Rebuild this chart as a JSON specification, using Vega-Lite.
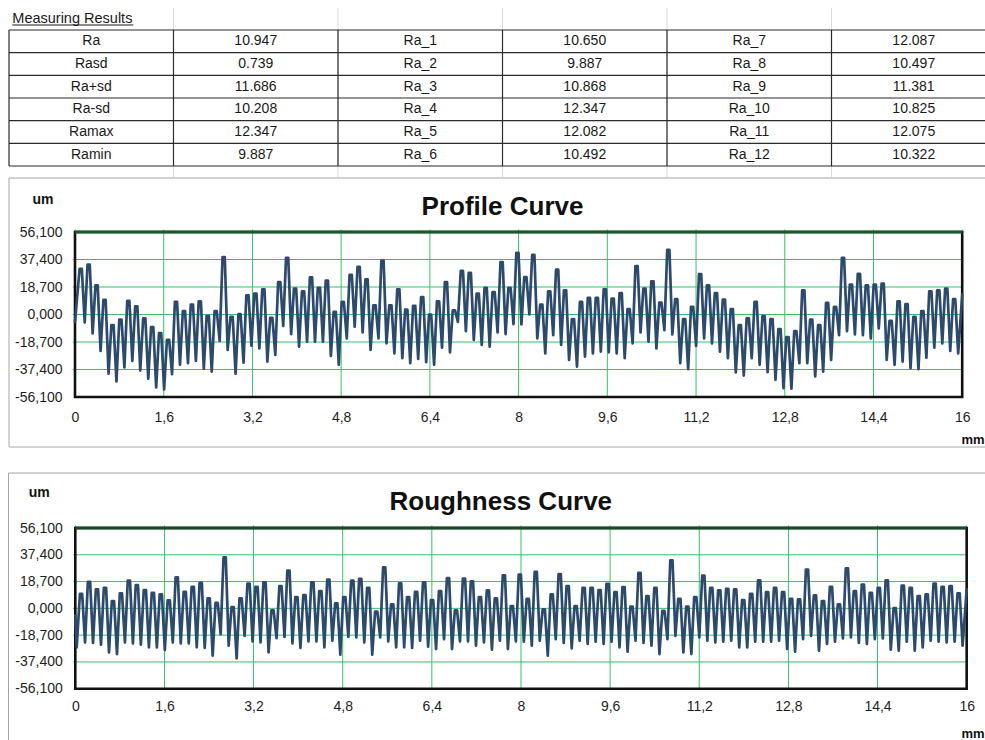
{
"$schema": "https://vega.github.io/schema/vega-lite/v6.json",
"padding": 0,
"spacing": 0,
"bounds": "flush",
"background": "white",
"config": {
  "view": {"stroke": null},
  "font": "Liberation Sans",
  "locale": {"number": {"decimal": ",", "thousands": ".", "grouping": [3], "currency": ["", " €"], "minus": "-"}}
},
"datasets": {
  "cells": [
    {"row":1,"col":1,"label":"Ra"},{"row":1,"col":2,"label":"10.947"},{"row":1,"col":3,"label":"Ra_1"},{"row":1,"col":4,"label":"10.650"},{"row":1,"col":5,"label":"Ra_7"},{"row":1,"col":6,"label":"12.087"},
    {"row":2,"col":1,"label":"Rasd"},{"row":2,"col":2,"label":"0.739"},{"row":2,"col":3,"label":"Ra_2"},{"row":2,"col":4,"label":"9.887"},{"row":2,"col":5,"label":"Ra_8"},{"row":2,"col":6,"label":"10.497"},
    {"row":3,"col":1,"label":"Ra+sd"},{"row":3,"col":2,"label":"11.686"},{"row":3,"col":3,"label":"Ra_3"},{"row":3,"col":4,"label":"10.868"},{"row":3,"col":5,"label":"Ra_9"},{"row":3,"col":6,"label":"11.381"},
    {"row":4,"col":1,"label":"Ra-sd"},{"row":4,"col":2,"label":"10.208"},{"row":4,"col":3,"label":"Ra_4"},{"row":4,"col":4,"label":"12.347"},{"row":4,"col":5,"label":"Ra_10"},{"row":4,"col":6,"label":"10.825"},
    {"row":5,"col":1,"label":"Ramax"},{"row":5,"col":2,"label":"12.347"},{"row":5,"col":3,"label":"Ra_5"},{"row":5,"col":4,"label":"12.082"},{"row":5,"col":5,"label":"Ra_11"},{"row":5,"col":6,"label":"12.075"},
    {"row":6,"col":1,"label":"Ramin"},{"row":6,"col":2,"label":"9.887"},{"row":6,"col":3,"label":"Ra_6"},{"row":6,"col":4,"label":"10.492"},{"row":6,"col":5,"label":"Ra_12"},{"row":6,"col":6,"label":"10.322"}
  ],
  "edges": [{"e":0.5},{"e":1.5},{"e":2.5},{"e":3.5},{"e":4.5},{"e":5.5},{"e":6.5}],
  "gridX": [{"mm":0},{"mm":1.6},{"mm":3.2},{"mm":4.8},{"mm":6.4},{"mm":8},{"mm":9.6},{"mm":11.2},{"mm":12.8},{"mm":14.4},{"mm":16}],
  "gridY": [{"um":-37.4},{"um":-18.7},{"um":0},{"um":18.7},{"um":37.4}],
  "profile": [
    {"x":0,"y":-5},
    {"x":0.083,"y":31.1},{"x":0.123,"y":31.1},{"x":0.175,"y":-5.4},
    {"x":0.226,"y":34.0},{"x":0.266,"y":34.0},{"x":0.318,"y":-12.8},
    {"x":0.369,"y":19.8},{"x":0.409,"y":19.8},{"x":0.461,"y":-24.8},
    {"x":0.513,"y":9.9},{"x":0.553,"y":9.9},{"x":0.605,"y":-40.3},
    {"x":0.656,"y":-7.2},{"x":0.696,"y":-7.2},{"x":0.748,"y":-45.5},
    {"x":0.799,"y":-3.4},{"x":0.839,"y":-3.4},{"x":0.891,"y":-36.0},
    {"x":0.942,"y":9.2},{"x":0.982,"y":9.2},{"x":1.034,"y":-31.5},
    {"x":1.085,"y":5.6},{"x":1.125,"y":5.6},{"x":1.177,"y":-38.1},
    {"x":1.229,"y":-2.7},{"x":1.269,"y":-2.7},{"x":1.321,"y":-43.7},
    {"x":1.372,"y":-8.6},{"x":1.412,"y":-8.6},{"x":1.464,"y":-49.6},
    {"x":1.515,"y":-12.6},{"x":1.555,"y":-12.6},{"x":1.607,"y":-50.9},
    {"x":1.658,"y":-17.3},{"x":1.698,"y":-17.3},{"x":1.750,"y":-40.6},
    {"x":1.801,"y":8.6},{"x":1.841,"y":8.6},{"x":1.893,"y":-34.2},
    {"x":1.945,"y":2.3},{"x":1.985,"y":2.3},{"x":2.037,"y":-33.1},
    {"x":2.088,"y":6.8},{"x":2.128,"y":6.8},{"x":2.180,"y":-31.5},
    {"x":2.231,"y":9.0},{"x":2.271,"y":9.0},{"x":2.323,"y":-36.9},
    {"x":2.374,"y":-0.9},{"x":2.414,"y":-0.9},{"x":2.466,"y":-38.8},
    {"x":2.517,"y":2.3},{"x":2.557,"y":2.3},{"x":2.609,"y":-18.0},
    {"x":2.661,"y":39.0},{"x":2.701,"y":39.0},{"x":2.753,"y":-24.1},
    {"x":2.804,"y":-1.6},{"x":2.844,"y":-1.6},{"x":2.896,"y":-40.3},
    {"x":2.947,"y":0.2},{"x":2.987,"y":0.2},{"x":3.039,"y":-32.7},
    {"x":3.090,"y":13.1},{"x":3.130,"y":13.1},{"x":3.182,"y":-21.2},
    {"x":3.233,"y":14.2},{"x":3.273,"y":14.2},{"x":3.325,"y":-23.0},
    {"x":3.377,"y":17.1},{"x":3.417,"y":17.1},{"x":3.469,"y":-32.0},
    {"x":3.520,"y":-2.3},{"x":3.560,"y":-2.3},{"x":3.612,"y":-27.5},
    {"x":3.663,"y":22.1},{"x":3.703,"y":22.1},{"x":3.755,"y":-7.7},
    {"x":3.806,"y":38.5},{"x":3.846,"y":38.5},{"x":3.898,"y":-13.3},
    {"x":3.949,"y":17.6},{"x":3.989,"y":17.6},{"x":4.041,"y":-21.9},
    {"x":4.093,"y":15.8},{"x":4.133,"y":15.8},{"x":4.185,"y":-18.5},
    {"x":4.236,"y":25.2},{"x":4.276,"y":25.2},{"x":4.328,"y":-18.5},
    {"x":4.379,"y":18.2},{"x":4.419,"y":18.2},{"x":4.471,"y":-18.5},
    {"x":4.522,"y":23.0},{"x":4.562,"y":23.0},{"x":4.614,"y":-28.2},
    {"x":4.665,"y":1.8},{"x":4.705,"y":1.8},{"x":4.757,"y":-34.2},
    {"x":4.809,"y":8.6},{"x":4.849,"y":8.6},{"x":4.901,"y":-16.2},
    {"x":4.952,"y":27.0},{"x":4.992,"y":27.0},{"x":5.044,"y":-8.3},
    {"x":5.095,"y":32.4},{"x":5.135,"y":32.4},{"x":5.187,"y":-12.2},
    {"x":5.238,"y":23.9},{"x":5.278,"y":23.9},{"x":5.330,"y":-24.1},
    {"x":5.381,"y":6.3},{"x":5.421,"y":6.3},{"x":5.473,"y":-16.2},
    {"x":5.525,"y":36.7},{"x":5.565,"y":36.7},{"x":5.617,"y":-19.6},
    {"x":5.668,"y":6.3},{"x":5.708,"y":6.3},{"x":5.760,"y":-26.4},
    {"x":5.811,"y":17.1},{"x":5.851,"y":17.1},{"x":5.903,"y":-29.7},
    {"x":5.954,"y":3.4},{"x":5.994,"y":3.4},{"x":6.046,"y":-33.1},
    {"x":6.097,"y":5.9},{"x":6.137,"y":5.9},{"x":6.189,"y":-30.2},
    {"x":6.241,"y":11.9},{"x":6.281,"y":11.9},{"x":6.333,"y":-32.4},
    {"x":6.384,"y":0.0},{"x":6.424,"y":0.0},{"x":6.476,"y":-34.2},
    {"x":6.527,"y":9.0},{"x":6.567,"y":9.0},{"x":6.619,"y":-22.5},
    {"x":6.670,"y":22.1},{"x":6.710,"y":22.1},{"x":6.762,"y":-25.7},
    {"x":6.813,"y":2.9},{"x":6.853,"y":2.9},{"x":6.905,"y":-5.0},
    {"x":6.957,"y":29.7},{"x":6.997,"y":29.7},{"x":7.049,"y":-11.3},
    {"x":7.100,"y":28.4},{"x":7.140,"y":28.4},{"x":7.192,"y":-17.3},
    {"x":7.243,"y":14.2},{"x":7.283,"y":14.2},{"x":7.335,"y":-20.7},
    {"x":7.386,"y":18.2},{"x":7.426,"y":18.2},{"x":7.478,"y":-21.9},
    {"x":7.529,"y":15.3},{"x":7.569,"y":15.3},{"x":7.621,"y":-12.2},
    {"x":7.673,"y":35.6},{"x":7.713,"y":35.6},{"x":7.765,"y":-13.3},
    {"x":7.816,"y":18.2},{"x":7.856,"y":18.2},{"x":7.908,"y":-6.5},
    {"x":7.959,"y":41.9},{"x":7.999,"y":41.9},{"x":8.051,"y":-6.8},
    {"x":8.102,"y":25.5},{"x":8.142,"y":25.5},{"x":8.194,"y":0.0},
    {"x":8.245,"y":40.6},{"x":8.285,"y":40.6},{"x":8.337,"y":-16.2},
    {"x":8.389,"y":6.8},{"x":8.429,"y":6.8},{"x":8.481,"y":-26.4},
    {"x":8.532,"y":15.8},{"x":8.572,"y":15.8},{"x":8.624,"y":-14.0},
    {"x":8.675,"y":30.6},{"x":8.715,"y":30.6},{"x":8.767,"y":-20.7},
    {"x":8.818,"y":16.4},{"x":8.858,"y":16.4},{"x":8.910,"y":-30.9},
    {"x":8.961,"y":-3.2},{"x":9.001,"y":-3.2},{"x":9.053,"y":-35.4},
    {"x":9.105,"y":8.6},{"x":9.145,"y":8.6},{"x":9.197,"y":-28.6},
    {"x":9.248,"y":11.3},{"x":9.288,"y":11.3},{"x":9.340,"y":-26.4},
    {"x":9.391,"y":11.3},{"x":9.431,"y":11.3},{"x":9.483,"y":-25.2},
    {"x":9.534,"y":17.1},{"x":9.574,"y":17.1},{"x":9.626,"y":-25.7},
    {"x":9.677,"y":10.8},{"x":9.717,"y":10.8},{"x":9.769,"y":-26.4},
    {"x":9.821,"y":14.6},{"x":9.861,"y":14.6},{"x":9.913,"y":-29.7},
    {"x":9.964,"y":3.6},{"x":10.004,"y":3.6},{"x":10.056,"y":-19.6},
    {"x":10.107,"y":32.9},{"x":10.147,"y":32.9},{"x":10.199,"y":-12.2},
    {"x":10.250,"y":17.6},{"x":10.290,"y":17.6},{"x":10.342,"y":-18.5},
    {"x":10.393,"y":22.5},{"x":10.433,"y":22.5},{"x":10.485,"y":-23.0},
    {"x":10.537,"y":8.1},{"x":10.577,"y":8.1},{"x":10.629,"y":-10.6},
    {"x":10.680,"y":43.9},{"x":10.720,"y":43.9},{"x":10.772,"y":-13.5},
    {"x":10.823,"y":10.4},{"x":10.863,"y":10.4},{"x":10.915,"y":-33.1},
    {"x":10.966,"y":-3.2},{"x":11.006,"y":-3.2},{"x":11.058,"y":-37.2},
    {"x":11.109,"y":5.2},{"x":11.149,"y":5.2},{"x":11.201,"y":-21.4},
    {"x":11.253,"y":27.5},{"x":11.293,"y":27.5},{"x":11.345,"y":-16.2},
    {"x":11.396,"y":19.8},{"x":11.436,"y":19.8},{"x":11.488,"y":-19.6},
    {"x":11.539,"y":14.6},{"x":11.579,"y":14.6},{"x":11.631,"y":-25.2},
    {"x":11.682,"y":10.1},{"x":11.722,"y":10.1},{"x":11.774,"y":-29.7},
    {"x":11.825,"y":3.6},{"x":11.865,"y":3.6},{"x":11.917,"y":-39.4},
    {"x":11.969,"y":-7.2},{"x":12.009,"y":-7.2},{"x":12.061,"y":-41.5},
    {"x":12.112,"y":-2.7},{"x":12.152,"y":-2.7},{"x":12.204,"y":-29.7},
    {"x":12.255,"y":8.6},{"x":12.295,"y":8.6},{"x":12.347,"y":-34.2},
    {"x":12.398,"y":-1.1},{"x":12.438,"y":-1.1},{"x":12.490,"y":-39.2},
    {"x":12.541,"y":-3.2},{"x":12.581,"y":-3.2},{"x":12.633,"y":-44.4},
    {"x":12.685,"y":-9.9},{"x":12.725,"y":-9.9},{"x":12.777,"y":-50.0},
    {"x":12.828,"y":-15.3},{"x":12.868,"y":-15.3},{"x":12.920,"y":-50.5},
    {"x":12.971,"y":-11.3},{"x":13.011,"y":-11.3},{"x":13.063,"y":-33.1},
    {"x":13.114,"y":16.4},{"x":13.154,"y":16.4},{"x":13.206,"y":-33.1},
    {"x":13.257,"y":-3.4},{"x":13.297,"y":-3.4},{"x":13.349,"y":-42.1},
    {"x":13.401,"y":-7.2},{"x":13.441,"y":-7.2},{"x":13.493,"y":-38.8},
    {"x":13.544,"y":7.9},{"x":13.584,"y":7.9},{"x":13.636,"y":-30.9},
    {"x":13.687,"y":5.2},{"x":13.727,"y":5.2},{"x":13.779,"y":-14.0},
    {"x":13.830,"y":38.5},{"x":13.870,"y":38.5},{"x":13.922,"y":-11.3},
    {"x":13.973,"y":20.3},{"x":14.013,"y":20.3},{"x":14.065,"y":-13.5},
    {"x":14.117,"y":27.7},{"x":14.157,"y":27.7},{"x":14.209,"y":-14.0},
    {"x":14.260,"y":19.8},{"x":14.300,"y":19.8},{"x":14.352,"y":-16.2},
    {"x":14.403,"y":20.3},{"x":14.443,"y":20.3},{"x":14.495,"y":-9.5},
    {"x":14.546,"y":21.0},{"x":14.586,"y":21.0},{"x":14.638,"y":-30.9},
    {"x":14.689,"y":-4.3},{"x":14.729,"y":-4.3},{"x":14.781,"y":-34.2},
    {"x":14.833,"y":9.0},{"x":14.873,"y":9.0},{"x":14.925,"y":-32.0},
    {"x":14.976,"y":7.0},{"x":15.016,"y":7.0},{"x":15.068,"y":-36.5},
    {"x":15.119,"y":-1.6},{"x":15.159,"y":-1.6},{"x":15.211,"y":-37.2},
    {"x":15.262,"y":2.3},{"x":15.302,"y":2.3},{"x":15.354,"y":-29.3},
    {"x":15.405,"y":15.8},{"x":15.445,"y":15.8},{"x":15.497,"y":-22.5},
    {"x":15.549,"y":16.4},{"x":15.589,"y":16.4},{"x":15.641,"y":-19.6},
    {"x":15.692,"y":17.6},{"x":15.732,"y":17.6},{"x":15.784,"y":-24.8},
    {"x":15.835,"y":10.4},{"x":15.875,"y":10.4},{"x":15.927,"y":-26.4},
    {"x":16,"y":13.5}
  ],
  "roughness": [
    {"x":0,"y":-5},{"x":0.025,"y":-27.2},
    {"x":0.083,"y":10.2},{"x":0.123,"y":10.2},{"x":0.175,"y":-23.8},
    {"x":0.226,"y":18.5},{"x":0.266,"y":18.5},{"x":0.318,"y":-24.2},
    {"x":0.369,"y":13.2},{"x":0.409,"y":13.2},{"x":0.461,"y":-25.4},
    {"x":0.513,"y":14.3},{"x":0.553,"y":14.3},{"x":0.605,"y":-30.7},
    {"x":0.656,"y":5.1},{"x":0.696,"y":5.1},{"x":0.748,"y":-31.9},
    {"x":0.799,"y":10.4},{"x":0.839,"y":10.4},{"x":0.891,"y":-23.8},
    {"x":0.942,"y":19.4},{"x":0.982,"y":19.4},{"x":1.034,"y":-24.5},
    {"x":1.085,"y":16.2},{"x":1.125,"y":16.2},{"x":1.177,"y":-25.4},
    {"x":1.229,"y":12.7},{"x":1.269,"y":12.7},{"x":1.321,"y":-27.2},
    {"x":1.372,"y":10.9},{"x":1.412,"y":10.9},{"x":1.464,"y":-27.2},
    {"x":1.515,"y":9.7},{"x":1.555,"y":9.7},{"x":1.607,"y":-29.1},
    {"x":1.658,"y":5.5},{"x":1.698,"y":5.5},{"x":1.750,"y":-23.8},
    {"x":1.801,"y":21.7},{"x":1.841,"y":21.7},{"x":1.893,"y":-24.5},
    {"x":1.945,"y":11.5},{"x":1.985,"y":11.5},{"x":2.037,"y":-24.5},
    {"x":2.088,"y":15.0},{"x":2.128,"y":15.0},{"x":2.180,"y":-27.2},
    {"x":2.231,"y":17.8},{"x":2.271,"y":17.8},{"x":2.323,"y":-27.7},
    {"x":2.374,"y":6.9},{"x":2.414,"y":6.9},{"x":2.466,"y":-33.0},
    {"x":2.517,"y":3.9},{"x":2.557,"y":3.9},{"x":2.609,"y":-18.0},
    {"x":2.661,"y":35.6},{"x":2.701,"y":35.6},{"x":2.753,"y":-26.1},
    {"x":2.804,"y":0.9},{"x":2.844,"y":0.9},{"x":2.896,"y":-34.9},
    {"x":2.947,"y":6.9},{"x":2.987,"y":6.9},{"x":3.039,"y":-19.2},
    {"x":3.090,"y":17.3},{"x":3.130,"y":17.3},{"x":3.182,"y":-23.1},
    {"x":3.233,"y":15.0},{"x":3.273,"y":15.0},{"x":3.325,"y":-23.8},
    {"x":3.377,"y":18.2},{"x":3.417,"y":18.2},{"x":3.469,"y":-30.7},
    {"x":3.520,"y":-1.4},{"x":3.560,"y":-1.4},{"x":3.612,"y":-20.8},
    {"x":3.663,"y":15.5},{"x":3.703,"y":15.5},{"x":3.755,"y":-19.9},
    {"x":3.806,"y":26.3},{"x":3.846,"y":26.3},{"x":3.898,"y":-24.5},
    {"x":3.949,"y":7.9},{"x":3.989,"y":7.9},{"x":4.041,"y":-27.7},
    {"x":4.093,"y":9.2},{"x":4.133,"y":9.2},{"x":4.185,"y":-23.1},
    {"x":4.236,"y":18.2},{"x":4.276,"y":18.2},{"x":4.328,"y":-23.1},
    {"x":4.379,"y":12.0},{"x":4.419,"y":12.0},{"x":4.471,"y":-27.2},
    {"x":4.522,"y":20.1},{"x":4.562,"y":20.1},{"x":4.614,"y":-22.6},
    {"x":4.665,"y":3.5},{"x":4.705,"y":3.5},{"x":4.757,"y":-32.3},
    {"x":4.809,"y":7.9},{"x":4.849,"y":7.9},{"x":4.901,"y":-19.9},
    {"x":4.952,"y":19.4},{"x":4.992,"y":19.4},{"x":5.044,"y":-20.3},
    {"x":5.095,"y":20.6},{"x":5.135,"y":20.6},{"x":5.187,"y":-23.8},
    {"x":5.238,"y":14.3},{"x":5.278,"y":14.3},{"x":5.330,"y":-32.3},
    {"x":5.381,"y":-2.3},{"x":5.421,"y":-2.3},{"x":5.473,"y":-20.3},
    {"x":5.525,"y":28.6},{"x":5.565,"y":28.6},{"x":5.617,"y":-23.1},
    {"x":5.668,"y":2.8},{"x":5.708,"y":2.8},{"x":5.760,"y":-27.2},
    {"x":5.811,"y":17.5},{"x":5.851,"y":17.5},{"x":5.903,"y":-27.2},
    {"x":5.954,"y":7.9},{"x":5.994,"y":7.9},{"x":6.046,"y":-27.7},
    {"x":6.097,"y":11.5},{"x":6.137,"y":11.5},{"x":6.189,"y":-22.6},
    {"x":6.241,"y":18.2},{"x":6.281,"y":18.2},{"x":6.333,"y":-26.8},
    {"x":6.384,"y":5.8},{"x":6.424,"y":5.8},{"x":6.476,"y":-28.4},
    {"x":6.527,"y":12.0},{"x":6.567,"y":12.0},{"x":6.619,"y":-21.5},
    {"x":6.670,"y":21.2},{"x":6.710,"y":21.2},{"x":6.762,"y":-28.4},
    {"x":6.813,"y":-1.4},{"x":6.853,"y":-1.4},{"x":6.905,"y":-23.1},
    {"x":6.957,"y":20.8},{"x":6.997,"y":20.8},{"x":7.049,"y":-23.1},
    {"x":7.100,"y":18.9},{"x":7.140,"y":18.9},{"x":7.192,"y":-26.1},
    {"x":7.243,"y":7.9},{"x":7.283,"y":7.9},{"x":7.335,"y":-23.8},
    {"x":7.386,"y":12.5},{"x":7.426,"y":12.5},{"x":7.478,"y":-28.9},
    {"x":7.529,"y":6.9},{"x":7.569,"y":6.9},{"x":7.621,"y":-22.6},
    {"x":7.673,"y":23.1},{"x":7.713,"y":23.1},{"x":7.765,"y":-28.4},
    {"x":7.816,"y":1.6},{"x":7.856,"y":1.6},{"x":7.908,"y":-23.1},
    {"x":7.959,"y":23.6},{"x":7.999,"y":23.6},{"x":8.051,"y":-23.3},
    {"x":8.102,"y":6.7},{"x":8.142,"y":6.7},{"x":8.194,"y":-26.1},
    {"x":8.245,"y":25.4},{"x":8.285,"y":25.4},{"x":8.337,"y":-22.6},
    {"x":8.389,"y":-0.7},{"x":8.429,"y":-0.7},{"x":8.481,"y":-33.0},
    {"x":8.532,"y":9.7},{"x":8.572,"y":9.7},{"x":8.624,"y":-21.5},
    {"x":8.675,"y":24.0},{"x":8.715,"y":24.0},{"x":8.767,"y":-24.2},
    {"x":8.818,"y":15.5},{"x":8.858,"y":15.5},{"x":8.910,"y":-27.9},
    {"x":8.961,"y":1.6},{"x":9.001,"y":1.6},{"x":9.053,"y":-22.6},
    {"x":9.105,"y":14.3},{"x":9.145,"y":14.3},{"x":9.197,"y":-24.9},
    {"x":9.248,"y":14.3},{"x":9.288,"y":14.3},{"x":9.340,"y":-23.3},
    {"x":9.391,"y":12.7},{"x":9.431,"y":12.7},{"x":9.483,"y":-24.9},
    {"x":9.534,"y":17.1},{"x":9.574,"y":17.1},{"x":9.626,"y":-23.3},
    {"x":9.677,"y":11.3},{"x":9.717,"y":11.3},{"x":9.769,"y":-27.2},
    {"x":9.821,"y":14.8},{"x":9.861,"y":14.8},{"x":9.913,"y":-30.2},
    {"x":9.964,"y":1.2},{"x":10.004,"y":1.2},{"x":10.056,"y":-22.6},
    {"x":10.107,"y":24.7},{"x":10.147,"y":24.7},{"x":10.199,"y":-24.2},
    {"x":10.250,"y":8.5},{"x":10.290,"y":8.5},{"x":10.342,"y":-26.1},
    {"x":10.393,"y":14.3},{"x":10.433,"y":14.3},{"x":10.485,"y":-31.9},
    {"x":10.537,"y":-1.8},{"x":10.577,"y":-1.8},{"x":10.629,"y":-21.5},
    {"x":10.680,"y":33.5},{"x":10.720,"y":33.5},{"x":10.772,"y":-19.2},
    {"x":10.823,"y":6.7},{"x":10.863,"y":6.7},{"x":10.915,"y":-30.7},
    {"x":10.966,"y":1.2},{"x":11.006,"y":1.2},{"x":11.058,"y":-31.9},
    {"x":11.109,"y":7.9},{"x":11.149,"y":7.9},{"x":11.201,"y":-20.3},
    {"x":11.253,"y":22.9},{"x":11.293,"y":22.9},{"x":11.345,"y":-22.6},
    {"x":11.396,"y":14.3},{"x":11.436,"y":14.3},{"x":11.488,"y":-23.8},
    {"x":11.539,"y":12.5},{"x":11.579,"y":12.5},{"x":11.631,"y":-23.3},
    {"x":11.682,"y":13.6},{"x":11.722,"y":13.6},{"x":11.774,"y":-22.6},
    {"x":11.825,"y":13.2},{"x":11.865,"y":13.2},{"x":11.917,"y":-27.2},
    {"x":11.969,"y":5.8},{"x":12.009,"y":5.8},{"x":12.061,"y":-27.2},
    {"x":12.112,"y":10.2},{"x":12.152,"y":10.2},{"x":12.204,"y":-23.3},
    {"x":12.255,"y":19.6},{"x":12.295,"y":19.6},{"x":12.347,"y":-23.3},
    {"x":12.398,"y":11.3},{"x":12.438,"y":11.3},{"x":12.490,"y":-23.3},
    {"x":12.541,"y":14.3},{"x":12.581,"y":14.3},{"x":12.633,"y":-22.6},
    {"x":12.685,"y":11.3},{"x":12.725,"y":11.3},{"x":12.777,"y":-28.4},
    {"x":12.828,"y":6.7},{"x":12.868,"y":6.7},{"x":12.920,"y":-30.2},
    {"x":12.971,"y":6.2},{"x":13.011,"y":6.2},{"x":13.063,"y":-21.5},
    {"x":13.114,"y":27.0},{"x":13.154,"y":27.0},{"x":13.206,"y":-19.2},
    {"x":13.257,"y":9.0},{"x":13.297,"y":9.0},{"x":13.349,"y":-29.6},
    {"x":13.401,"y":5.1},{"x":13.441,"y":5.1},{"x":13.493,"y":-24.9},
    {"x":13.544,"y":15.0},{"x":13.584,"y":15.0},{"x":13.636,"y":-23.3},
    {"x":13.687,"y":2.8},{"x":13.727,"y":2.8},{"x":13.779,"y":-21.0},
    {"x":13.830,"y":27.9},{"x":13.870,"y":27.9},{"x":13.922,"y":-20.3},
    {"x":13.973,"y":12.0},{"x":14.013,"y":12.0},{"x":14.065,"y":-24.2},
    {"x":14.117,"y":16.6},{"x":14.157,"y":16.6},{"x":14.209,"y":-24.9},
    {"x":14.260,"y":10.9},{"x":14.300,"y":10.9},{"x":14.352,"y":-21.5},
    {"x":14.403,"y":14.3},{"x":14.443,"y":14.3},{"x":14.495,"y":-21.0},
    {"x":14.546,"y":19.6},{"x":14.586,"y":19.6},{"x":14.638,"y":-28.9},
    {"x":14.689,"y":0.2},{"x":14.729,"y":0.2},{"x":14.781,"y":-29.6},
    {"x":14.833,"y":15.9},{"x":14.873,"y":15.9},{"x":14.925,"y":-23.3},
    {"x":14.976,"y":14.3},{"x":15.016,"y":14.3},{"x":15.068,"y":-29.6},
    {"x":15.119,"y":8.5},{"x":15.159,"y":8.5},{"x":15.211,"y":-27.2},
    {"x":15.262,"y":9.7},{"x":15.302,"y":9.7},{"x":15.354,"y":-22.6},
    {"x":15.405,"y":17.3},{"x":15.445,"y":17.3},{"x":15.497,"y":-23.3},
    {"x":15.549,"y":15.0},{"x":15.589,"y":15.0},{"x":15.641,"y":-23.8},
    {"x":15.692,"y":15.5},{"x":15.732,"y":15.5},{"x":15.784,"y":-23.3},
    {"x":15.835,"y":10.4},{"x":15.875,"y":10.4},{"x":15.927,"y":-26.1},
    {"x":16,"y":13.2}
  ]
},
"vconcat": [
  {
    "width": 985,
    "height": 177,
    "layer": [
      {
        "data": {"name": "edges"},
        "transform": [{"filter": "datum.e > 1 && datum.e < 6"}],
        "mark": {"type": "rule", "color": "#dadada", "strokeWidth": 1},
        "encoding": {
          "x": {"field": "e", "type": "quantitative", "scale": {"domain": [0.4453, 6.4331], "nice": false, "zero": false}, "axis": null},
          "y": {"datum": -0.4705, "type": "quantitative", "scale": {"domain": [-0.8233, 6.9843], "nice": false, "zero": false, "reverse": true}, "axis": null},
          "y2": {"datum": 6.9843}
        }
      },
      {
        "data": {"name": "edges"},
        "transform": [{"filter": "datum.e < 6"}],
        "mark": {"type": "rule", "color": "#2b2b2b", "strokeWidth": 1.2},
        "encoding": {
          "x": {"field": "e", "type": "quantitative", "scale": {"domain": [0.4453, 6.4331], "nice": false, "zero": false}, "axis": null},
          "y": {"datum": 0.5, "type": "quantitative", "scale": {"domain": [-0.8233, 6.9843], "nice": false, "zero": false, "reverse": true}, "axis": null},
          "y2": {"datum": 6.5}
        }
      },
      {
        "data": {"name": "edges"},
        "mark": {"type": "rule", "color": "#2b2b2b", "strokeWidth": 1.2},
        "encoding": {
          "y": {"field": "e", "type": "quantitative", "scale": {"domain": [-0.8233, 6.9843], "nice": false, "zero": false, "reverse": true}, "axis": null},
          "x": {"datum": 0.5, "type": "quantitative", "scale": {"domain": [0.4453, 6.4331], "nice": false, "zero": false}, "axis": null},
          "x2": {"datum": 6.4331}
        }
      },
      {
        "data": {"name": "cells"},
        "mark": {"type": "text", "fontSize": 14, "color": "#1a1a1a", "align": "center", "baseline": "middle"},
        "encoding": {
          "x": {"field": "col", "type": "quantitative", "scale": {"domain": [0.4453, 6.4331], "nice": false, "zero": false}, "axis": null},
          "y": {"field": "row", "type": "quantitative", "scale": {"domain": [-0.8233, 6.9843], "nice": false, "zero": false, "reverse": true}, "axis": null},
          "text": {"field": "label"}
        }
      },
      {
        "data": {"values": [{"heading": "Measuring Results"}]},
        "mark": {"type": "text", "fontSize": 14.5, "color": "#1a1a1a", "align": "left", "baseline": "middle", "dx": 3.3},
        "encoding": {
          "x": {"datum": 0.5, "type": "quantitative", "scale": {"domain": [0.4453, 6.4331], "nice": false, "zero": false}, "axis": null},
          "y": {"datum": 0, "type": "quantitative", "scale": {"domain": [-0.8233, 6.9843], "nice": false, "zero": false, "reverse": true}, "axis": null},
          "text": {"field": "heading"}
        }
      },
      {
        "data": {"values": [{"heading": "Measuring Results"}]},
        "mark": {"type": "rule", "color": "#1a1a1a", "strokeWidth": 1},
        "encoding": {
          "x": {"datum": 0.52, "type": "quantitative", "scale": {"domain": [0.4453, 6.4331], "nice": false, "zero": false}, "axis": null},
          "x2": {"datum": 1.2556},
          "y": {"datum": 0.2794, "type": "quantitative", "scale": {"domain": [-0.8233, 6.9843], "nice": false, "zero": false, "reverse": true}, "axis": null}
        }
      }
    ]
  },
  {
    "width": 985,
    "height": 283,
    "layer": [
      {
        "data": {"values": [{"chart": "Profile Curve"}]},
        "mark": {"type": "rect", "filled": false, "stroke": "#a6a6a6", "strokeWidth": 1, "clip": true},
        "encoding": {
          "x": {"datum": -1.19, "type": "quantitative"},
          "x2": {"datum": 17.5},
          "y": {"datum": 92.82, "type": "quantitative"},
          "y2": {"datum": -90.1}
        }
      },
      {
        "data": {"name": "gridY"},
        "mark": {"type": "rule", "color": "#34c267", "strokeWidth": 1},
        "encoding": {
          "y": {"field": "um", "type": "quantitative"},
          "x": {"datum": -0.04, "type": "quantitative"},
          "x2": {"datum": 16}
        }
      },
      {
        "data": {"name": "gridX"},
        "mark": {"type": "rule", "color": "#34c267", "strokeWidth": 1},
        "encoding": {
          "x": {"field": "mm", "type": "quantitative"},
          "y": {"datum": -56.1, "type": "quantitative"},
          "y2": {"datum": 57.8}
        }
      },
      {
        "data": {"values": [{"chart": "Profile Curve"}]},
        "mark": {"type": "rect", "filled": false, "stroke": "#111111", "strokeWidth": 2.6},
        "encoding": {
          "x": {"datum": 0, "type": "quantitative"},
          "x2": {"datum": 16},
          "y": {"datum": -56.1, "type": "quantitative"},
          "y2": {"datum": 56.1}
        }
      },
      {
        "data": {"values": [{"chart": "Profile Curve"}]},
        "mark": {"type": "rule", "color": "#1c5a2c", "strokeWidth": 3},
        "encoding": {
          "x": {"datum": 0, "type": "quantitative"},
          "x2": {"datum": 16},
          "y": {"datum": 56.1, "type": "quantitative"}
        }
      },
      {
        "data": {"name": "profile"},
        "mark": {"type": "line", "color": "#2c4a6e", "strokeWidth": 2.7, "strokeJoin": "round", "strokeCap": "round", "interpolate": "linear"},
        "encoding": {
          "x": {
            "field": "x", "type": "quantitative",
            "scale": {"domain": [-1.3526, 16.411], "nice": false, "zero": false},
            "axis": {
              "values": [0, 1.6, 3.2, 4.8, 6.4, 8, 9.6, 11.2, 12.8, 14.4, 16],
              "format": ".1~f", "offset": -63, "domain": false, "ticks": false, "tickSize": 0, "grid": false,
              "labelPadding": 13.7, "labelFontSize": 14, "labelColor": "#1e1e1e", "labelFlush": false, "labelOverlap": false,
              "title": "mm", "titleX": 961, "titleY": 46.3, "titleAlign": "left", "titleBaseline": "alphabetic",
              "titleFontSize": 13, "titleFontWeight": "bold", "titleColor": "#111111"
            }
          },
          "y": {
            "field": "y", "type": "quantitative",
            "scale": {"domain": [-98.94, 93.5], "nice": false, "zero": false},
            "axis": {
              "values": [-56.1, -37.4, -18.7, 0, 18.7, 37.4, 56.1],
              "format": ".3f", "offset": -75, "domain": false, "ticks": false, "tickSize": 0, "grid": false,
              "labelPadding": 13, "labelFontSize": 14, "labelColor": "#1e1e1e", "labelFlush": false, "labelOverlap": false,
              "title": "um", "titleAngle": 0, "titleX": -43, "titleY": 26.3, "titleAlign": "left", "titleBaseline": "alphabetic",
              "titleFontSize": 14, "titleFontWeight": "bold", "titleColor": "#111111"
            }
          }
        }
      },
      {
        "data": {"values": [{"chart": "Profile Curve"}]},
        "mark": {"type": "text", "fontSize": 26, "fontWeight": "bold", "align": "center", "baseline": "alphabetic", "color": "#111111"},
        "encoding": {
          "x": {"datum": 7.71, "type": "quantitative"},
          "y": {"datum": 67.66, "type": "quantitative"},
          "text": {"field": "chart"}
        }
      }
    ]
  },
  {
    "width": 985,
    "height": 280,
    "layer": [
      {
        "data": {"values": [{"chart": "Roughness Curve"}]},
        "mark": {"type": "rect", "filled": false, "stroke": "#a6a6a6", "strokeWidth": 1, "clip": true},
        "encoding": {
          "x": {"datum": -1.199, "type": "quantitative"},
          "x2": {"datum": 17.5},
          "y": {"datum": 94.5, "type": "quantitative"},
          "y2": {"datum": -95}
        }
      },
      {
        "data": {"name": "gridY"},
        "mark": {"type": "rule", "color": "#34c267", "strokeWidth": 1},
        "encoding": {
          "y": {"field": "um", "type": "quantitative"},
          "x": {"datum": -0.04, "type": "quantitative"},
          "x2": {"datum": 16}
        }
      },
      {
        "data": {"name": "gridX"},
        "mark": {"type": "rule", "color": "#34c267", "strokeWidth": 1},
        "encoding": {
          "x": {"field": "mm", "type": "quantitative"},
          "y": {"datum": -56.1, "type": "quantitative"},
          "y2": {"datum": 57.85}
        }
      },
      {
        "data": {"values": [{"chart": "Roughness Curve"}]},
        "mark": {"type": "rect", "filled": false, "stroke": "#111111", "strokeWidth": 2.6},
        "encoding": {
          "x": {"datum": 0, "type": "quantitative"},
          "x2": {"datum": 16},
          "y": {"datum": -56.1, "type": "quantitative"},
          "y2": {"datum": 56.1}
        }
      },
      {
        "data": {"values": [{"chart": "Roughness Curve"}]},
        "mark": {"type": "rule", "color": "#1c4a2a", "strokeWidth": 3},
        "encoding": {
          "x": {"datum": 0, "type": "quantitative"},
          "x2": {"datum": 16},
          "y": {"datum": 56.1, "type": "quantitative"}
        }
      },
      {
        "data": {"name": "roughness"},
        "mark": {"type": "line", "color": "#2c4a6e", "strokeWidth": 2.7, "strokeJoin": "round", "strokeCap": "round", "interpolate": "linear"},
        "encoding": {
          "x": {
            "field": "x", "type": "quantitative",
            "scale": {"domain": [-1.3516, 16.329], "nice": false, "zero": false},
            "axis": {
              "values": [0, 1.6, 3.2, 4.8, 6.4, 8, 9.6, 11.2, 12.8, 14.4, 16],
              "format": ".1~f", "offset": -51.3, "domain": false, "ticks": false, "tickSize": 0, "grid": false,
              "labelPadding": 11, "labelFontSize": 14, "labelColor": "#1e1e1e", "labelFlush": false, "labelOverlap": false,
              "title": "mm", "titleX": 961, "titleY": 48.8, "titleAlign": "left", "titleBaseline": "alphabetic",
              "titleFontSize": 13, "titleFontWeight": "bold", "titleColor": "#111111"
            }
          },
          "y": {
            "field": "y", "type": "quantitative",
            "scale": {"domain": [-91.92, 103.58], "nice": false, "zero": false},
            "axis": {
              "values": [-56.1, -37.4, -18.7, 0, 18.7, 37.4, 56.1],
              "format": ".3f", "offset": -75.3, "domain": false, "ticks": false, "tickSize": 0, "grid": false,
              "labelPadding": 13, "labelFontSize": 14, "labelColor": "#1e1e1e", "labelFlush": false, "labelOverlap": false,
              "title": "um", "titleAngle": 0, "titleX": -47, "titleY": 36, "titleAlign": "left", "titleBaseline": "alphabetic",
              "titleFontSize": 14, "titleFontWeight": "bold", "titleColor": "#111111"
            }
          }
        }
      },
      {
        "data": {"values": [{"chart": "Roughness Curve"}]},
        "mark": {"type": "text", "fontSize": 26, "fontWeight": "bold", "align": "center", "baseline": "alphabetic", "color": "#111111"},
        "encoding": {
          "x": {"datum": 7.638, "type": "quantitative"},
          "y": {"datum": 68.67, "type": "quantitative"},
          "text": {"field": "chart"}
        }
      }
    ]
  }
]
}
